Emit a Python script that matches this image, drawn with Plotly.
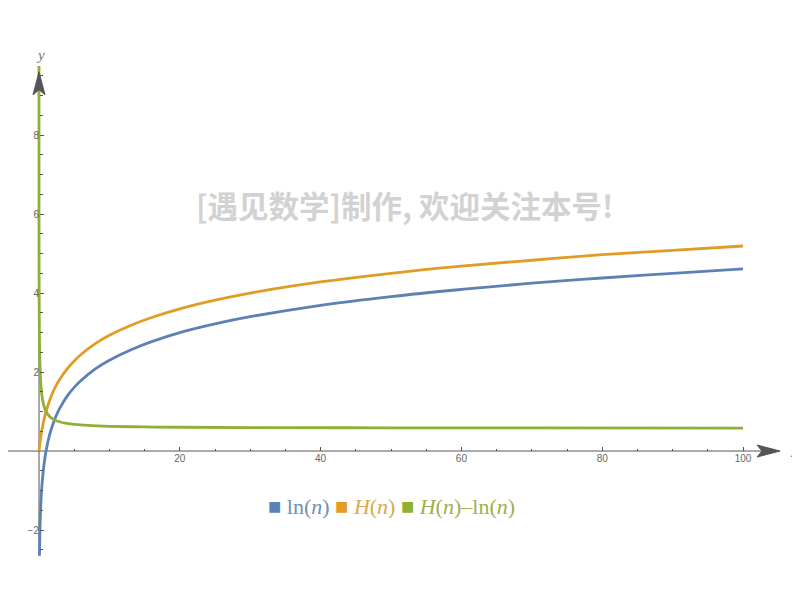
import plotly.graph_objects as go

# values
n_ln = [0.02, 0.05, 0.07, 0.1, 0.15, 0.2, 0.3, 0.4, 0.5, 0.7, 1, 1.5, 2, 2.5, 3, 4, 5, 6, 8, 10,
        13, 16, 20, 25, 30, 40, 50, 60, 70, 80, 90, 100]
ln_vals = [-3.91, -3.00, -2.66, -2.30, -1.90, -1.61, -1.20, -0.92, -0.69, -0.36, 0.00, 0.41, 0.69,
           0.92, 1.10, 1.39, 1.61, 1.79, 2.08, 2.30, 2.56, 2.77, 3.00, 3.22, 3.40, 3.69, 3.91, 4.09,
           4.25, 4.38, 4.50, 4.61]

n_h = [0] + n_ln
h_vals = [0.00, 0.03, 0.08, 0.11, 0.15, 0.22, 0.29, 0.41, 0.52, 0.61, 0.79, 1.00, 1.28, 1.50, 1.68,
          1.83, 2.08, 2.28, 2.45, 2.72, 2.93, 3.18, 3.38, 3.60, 3.82, 4.00, 4.28, 4.50, 4.68, 4.83,
          4.97, 5.08, 5.19]

n_diff = [0.00005, 0.0001, 0.0003, 0.001, 0.003, 0.01, 0.03, 0.07, 0.1, 0.15, 0.2, 0.3, 0.4, 0.5,
          0.7, 1, 1.5, 2, 3, 4, 5, 7, 10, 15, 20, 30, 50, 70, 100]
diff_vals = [9.90, 9.21, 8.11, 6.91, 5.82, 4.62, 3.55, 2.77, 2.46, 2.12, 1.90, 1.61, 1.43, 1.31,
             1.14, 1.00, 0.875, 0.807, 0.735, 0.697, 0.674, 0.647, 0.626, 0.610, 0.602, 0.594,
             0.587, 0.584, 0.582]

x_major = [20, 40, 60, 80, 100]
x_minor = [-5, 5, 10, 15, 25, 30, 35, 45, 50, 55, 65, 70, 75, 85, 90, 95]
y_major = [-2, 2, 4, 6, 8]
y_minor = [-2.5, -1.5, -1, -0.5, 0.5, 1, 1.5, 2.5, 3, 3.5, 4.5, 5, 5.5, 6.5, 7, 7.5, 8.5, 9, 9.5]

BLUE = '#5E81B5'
ORANGE = '#E19C24'
GREEN = '#8FB032'
AXIS = '#555555'

W, H = 800, 601
OFF = 8  # the page body has an 8px margin, so place things 8px up/left


def px(x):
    return (x - OFF) / W


def py(y):
    return (H - (y - OFF)) / H


def label(x, y, text, font):
    fig.add_annotation(x=px(x), y=py(y), xref='paper', yref='paper', text=text, showarrow=False,
                       xanchor='center', yanchor='middle', font=font)


fig = go.Figure()
fig.add_trace(go.Scatter(x=n_ln, y=ln_vals, mode='lines', line=dict(color=BLUE, width=2.8, shape='spline'),
                         showlegend=False))
fig.add_trace(go.Scatter(x=n_h, y=h_vals, mode='lines', line=dict(color=ORANGE, width=2.8, shape='spline'),
                         showlegend=False))
fig.add_trace(go.Scatter(x=n_diff, y=diff_vals, mode='lines', line=dict(color=GREEN, width=2.8, shape='spline'),
                         showlegend=False))

# axes with arrowheads, Mathematica style
fig.add_shape(type='line', x0=-4.5, x1=103, y0=0, y1=0, line=dict(color=AXIS, width=1), layer='below')
fig.add_shape(type='line', x0=0, x1=0, y0=-2.65, y1=9.2, line=dict(color=AXIS, width=1), layer='below')
fig.add_shape(type='path', xsizemode='pixel', ysizemode='pixel', xanchor=105.26, yanchor=0,
              path='M0,0 L-23,6 L-18,0 L-23,-6 Z', fillcolor=AXIS, line=dict(color=AXIS, width=1))
fig.add_shape(type='path', xsizemode='pixel', ysizemode='pixel', xanchor=0, yanchor=9.6,
              path='M0,0 L-6,-23 L0,-18 L6,-23 Z', fillcolor=AXIS, line=dict(color=AXIS, width=1))

label(794, 452, '<i>x</i>', dict(family='Liberation Serif', size=15, color='#777'))
label(40, 55, '<i>y</i>', dict(family='Liberation Serif', size=15, color='#777'))

# watermark
label(404, 205, '<b>[遇见数学]制作, 欢迎关注本号!</b>',
      dict(family='Noto Sans CJK SC', size=30.5, color='#d2d2d2'))

# legend
legend_text = (
    f'<span style="color:{BLUE}">■</span> <span style="color:#6f8fbd">ln(<i>n</i>)</span> '
    f'<span style="color:{ORANGE}">■</span> <span style="color:#d9a94a"><i>H</i>(<i>n</i>)</span> '
    f'<span style="color:{GREEN}">■</span> <span style="color:#9cb04e"><i>H</i>(<i>n</i>)–ln(<i>n</i>)</span>'
)
label(391, 506, legend_text, dict(family='Liberation Serif', size=22))

tick_font = dict(family='Liberation Sans', size=10, color='#666')
fig.update_layout(
    width=W, height=H,
    margin=dict(l=0, r=0, t=0, b=0, autoexpand=False),
    plot_bgcolor='white', paper_bgcolor='white',
    xaxis=dict(range=[-31 / 7.04, 769 / 7.04], domain=[0, 1], anchor='free', position=py(451),
               automargin=False, showgrid=False, zeroline=False, showline=False,
               tickvals=x_major, ticks='inside', ticklen=4, tickcolor=AXIS, tickfont=tick_font,
               minor=dict(tickvals=x_minor, ticks='inside', ticklen=2.5, tickcolor=AXIS)),
    yaxis=dict(range=[-2.65, 9.75], domain=[py(555.7), py(65.9)], anchor='free', position=px(39),
               automargin=False, showgrid=False, zeroline=False, showline=False,
               tickvals=y_major, ticktext=['−2', '2', '4', '6', '8'],
               ticks='inside', ticklen=4, tickcolor=AXIS, tickfont=tick_font,
               minor=dict(tickvals=y_minor, ticks='inside', ticklen=2.5, tickcolor=AXIS)),
)

fig.write_html("out.html")
